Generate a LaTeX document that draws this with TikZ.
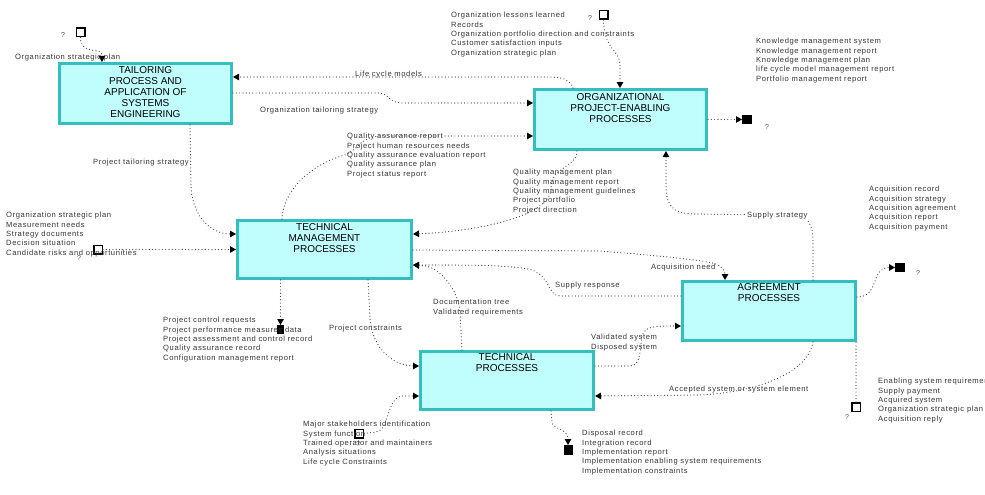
\documentclass[tikz,border=0pt]{standalone}
\usepackage{fontspec}
\setmainfont{Liberation Sans}
\newfontfamily\lblfont[LetterSpace=8]{Liberation Sans}
\usetikzlibrary{arrows.meta}
\definecolor{boxfill}{RGB}{192,253,253}
\definecolor{boxline}{RGB}{52,190,190}
\begin{document}
\begin{tikzpicture}[x=1pt,y=-1pt,
  proc/.style={draw=boxline,fill=boxfill,line width=3pt,inner sep=0pt,outer sep=1.5pt,minimum width=172pt,minimum height=60pt},
  ptxt/.style={anchor=north,align=center,inner sep=0pt,font=\fontsize{10}{11}\selectfont},
  lbl/.style={anchor=north west,align=left,inner sep=0pt,text=black!80,font=\lblfont\fontsize{7.6}{9.4}\selectfont},
  qm/.style={inner sep=0pt,text=black!70,font=\fontsize{7}{8}\selectfont},
  osq/.style={draw=black,line width=1.5pt,fill=white,minimum size=8.5pt,inner sep=0pt,outer sep=0.75pt},
  fsq/.style={fill=black,minimum width=9pt,minimum height=9pt,inner sep=0pt,outer sep=0pt},
  flow/.style={draw=black!75,line width=1.2pt,line cap=round,dash pattern=on 0pt off 3.3pt},
  arr/.style={-{Triangle[length=6pt,width=6.5pt,color=black]}}
]
\useasboundingbox (0,0) rectangle (985,495);

% process boxes
\node[proc] (tail) at (145.5,93.5) {};
\node[proc] (org) at (620.5,119.5) {};
\node[proc,minimum width=174pt,minimum height=58pt] (tm) at (324.5,249.5) {};
\node[proc,minimum width=173pt,minimum height=59pt] (agr) at (769,311) {};
\node[proc,minimum width=173pt,minimum height=58pt] (tp) at (507,380.5) {};

\node[ptxt] (tailt) at ([yshift=-4pt]tail.north) {TAILORING\\PROCESS AND\\APPLICATION OF\\SYSTEMS\\ENGINEERING};
\node[ptxt] (orgt) at ([yshift=-5pt]org.north) {ORGANIZATIONAL\\PROJECT-ENABLING\\PROCESSES};
\node[ptxt] (tmt) at ([yshift=-4pt]tm.north) {TECHNICAL\\MANAGEMENT\\PROCESSES};
\node[ptxt] (agrt) at ([yshift=-3.5pt]agr.north) {AGREEMENT\\PROCESSES};
\node[ptxt] (tpt) at ([yshift=-3.5pt]tp.north) {TECHNICAL\\PROCESSES};

% sources and sinks
\node[osq] (sq1) at (80.5,32.5) {};
\node[osq] (sq2) at (603.5,15) {};
\node[osq] (sq3) at (98,249.5) {};
\node[osq] (sq4) at (856,407) {};
\node[osq] (sq5) at (359,433.5) {};
\node[fsq,minimum width=10pt] (fsq1) at (747,119.5) {};
\node[fsq,minimum width=7pt] (fsq2) at (280.5,329.5) {};
\node[fsq,minimum width=10pt] (fsq3) at (900,267.5) {};
\node[fsq,minimum height=10pt] (fsq4) at (568,450) {};

\node[qm] (q1) at (63,35) {?};
\node[qm] (q2) at (590,18) {?};
\node[qm] (q3) at (767,127) {?};
\node[qm] (q4) at (79,258) {?};
\node[qm] (q5) at (918,273) {?};
\node[qm] (q6) at (847,417) {?};
\node[qm] (q7) at (358,444) {?};

% connectors
\draw[flow,arr] (sq1.south) .. controls (80,50) and (92,50) .. (98,51) .. controls (102,52) and (102,55) .. (tail.north -| 102,0);
\draw[flow,arr] (org.north -| 573,0) .. controls (569,80) and (565,77) .. (548,77) -- (tail.east |- 0,77);
\draw[flow,arr] (tail.east |- 0,93) -- (378,93) .. controls (390,93) and (388,103) .. (402,103) -- (org.west |- 0,103);
\draw[flow,arr] (sq2.south) .. controls (604,50) and (620,50) .. (620,65) -- (org.north -| 620,0);
\draw[flow,arr] (org.east |- 0,119.5) -- (fsq1.west);
\draw[flow,arr] (agr.north -| 813,0) -- (813,242) .. controls (813,224) and (808,215) .. (792,215) -- (692,214) .. controls (672,213) and (666,205) .. (666,185) -- (org.south -| 666,0);
\draw[flow,arr] (tm.north -| 282,0) .. controls (284,185) and (318,162) .. (345,155) .. controls (358,150) and (360,137) .. (380,136) -- (org.west |- 0,136);
\draw[flow,arr] (org.south -| 577,0) .. controls (577,168) and (551,166) .. (551,188) .. controls (551,218) and (470,232) .. (tm.east |- 0,234);
\draw[flow,arr] (tm.east |- 0,250) -- (600,251) .. controls (650,255) and (705,260) .. (716,264) .. controls (723,267) and (725,272) .. (agr.north -| 725,0);
\draw[flow,arr] (agr.west |- 0,296) -- (560,296) .. controls (548,296) and (550,276) .. (532,270) .. controls (515,265) and (470,265) .. (tm.east |- 0,265);
\draw[flow,arr] (tp.north -| 462,0) -- (460,312) .. controls (458,290) and (442,270) .. (426,266) -- (tm.east |- 0,265);
\draw[flow,arr] (tm.south -| 368,0) -- (370,318) .. controls (372,350) and (395,366) .. (tp.west |- 0,366);
\draw[flow,arr] (tm.south -| fsq2.north) -- (fsq2.north);
\draw[flow,arr] (tail.south -| 190,0) -- (191,185) .. controls (192,218) and (212,234) .. (tm.west |- 0,234);
\draw[flow,arr] (sq3.east) -- (tm.west |- sq3.east);
\draw[flow,arr] (agr.east |- 0,297) .. controls (880,297) and (870,267.5) .. (fsq3.west);
\draw[flow] (sq4.north) -- (agr.south -| sq4.north);
\draw[flow,arr] (tp.east |- 0,366) -- (630,366) .. controls (642,366) and (640,345) .. (642,336) .. controls (645,326) and (655,326) .. (agr.west |- 0,326);
\draw[flow,arr] (agr.south -| 813,0) .. controls (808,372) and (760,392) .. (700,395) -- (tp.east |- 0,396);
\draw[flow,arr] (sq5.east) -- (376,432) .. controls (390,430) and (386,398) .. (402,396) -- (tp.west |- 0,396);
\draw[flow,arr] (tp.south -| 551,0) -- (552,422) .. controls (553,430) and (568,428) .. (fsq4.north);

% labels
\node[lbl] (l1) at (15,54) {Organization strategic plan};
\node[lbl] (l2) at (451,12) {Organization lessons learned\\Records\\Organization portfolio direction and constraints\\Customer satisfaction inputs\\Organization strategic plan};
\node[lbl] (l3) at (756,38) {Knowledge management system\\Knowledge management report\\Knowledge management plan\\life cycle model management report\\Portfolio management report};
\node[lbl] (l4) at (355,71) {Life cycle models};
\node[lbl] (l5) at (260,107) {Organization tailoring strategy};
\node[lbl] (l6) at (93,159) {Project tailoring strategy};
\node[lbl] (l7) at (6,212) {Organization strategic plan\\Measurement needs\\Strategy documents\\Decision situation\\Candidate risks and opportunities};
\node[lbl] (l8) at (347,133) {Quality assurance report\\Project human resources needs\\Quality assurance evaluation report\\Quality assurance plan\\Project status report};
\node[lbl] (l9) at (513,169) {Quality management plan\\Quality management report\\Quality management guidelines\\Project portfolio\\Project direction};
\node[lbl,fill=white,inner sep=1pt] (l10) at (746,211) {Supply strategy};
\node[lbl] (l11) at (869,186) {Acquisition record\\Acquisition strategy\\Acquisition agreement\\Acquisition report\\Acquisition payment};
\node[lbl] (l12) at (651,264) {Acquisition need};
\node[lbl] (l13) at (555,282) {Supply response};
\node[lbl] (l14) at (433,299) {Documentation tree\\Validated requirements};
\node[lbl] (l15) at (329,325) {Project constraints};
\node[lbl] (l16) at (163,317) {Project control requests\\Project performance measures data\\Project assessment and control record\\Quality assurance record\\Configuration management report};
\node[lbl] (l17) at (591,334) {Validated system\\Disposed system};
\node[lbl] (l18) at (669,386) {Accepted system or system element};
\node[lbl] (l19) at (878,378) {Enabling system requirements\\Supply payment\\Acquired system\\Organization strategic plan\\Acquisition reply};
\node[lbl] (l20) at (303,421) {Major stakeholders identification\\System function\\Trained operator and maintainers\\Analysis situations\\Life cycle Constraints};
\node[lbl] (l21) at (582,430) {Disposal record\\Integration record\\Implementation report\\Implementation enabling system requirements\\Implementation constraints};
\end{tikzpicture}
\end{document}
